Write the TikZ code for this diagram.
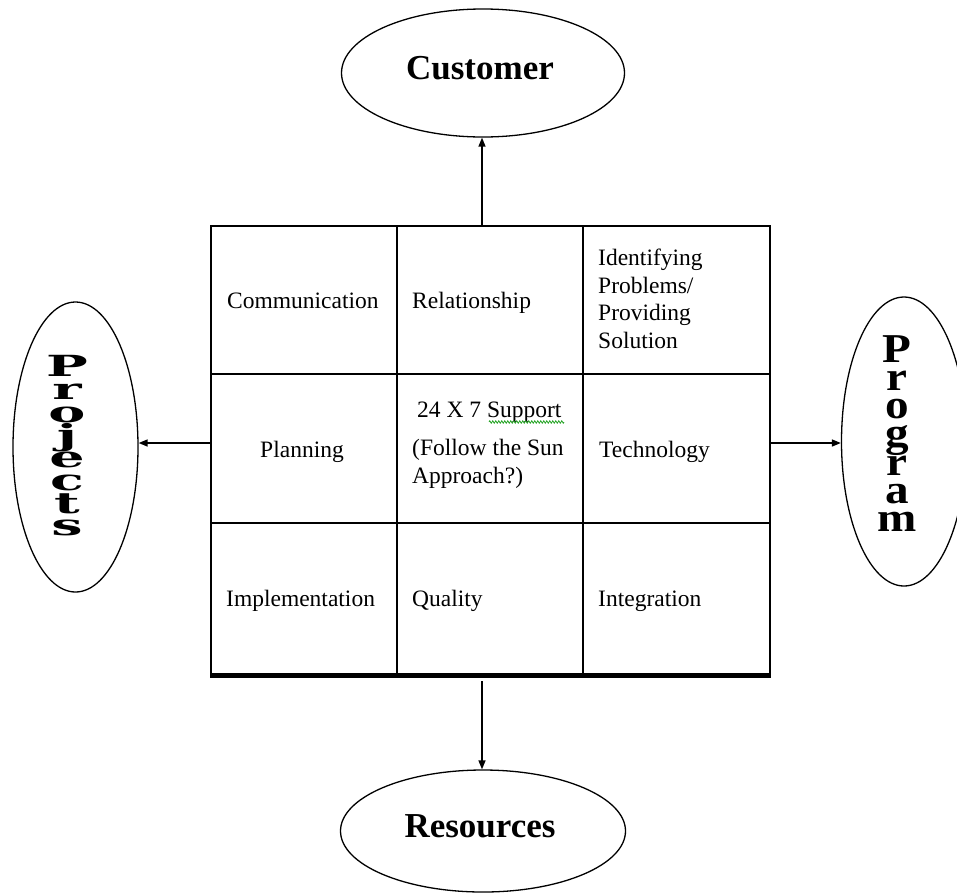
\documentclass[tikz,border=0pt]{standalone}
\usepackage{graphicx}
\usepackage{fontspec}
\setmainfont{Liberation Serif}
\newfontfamily\slabfont{DejaVu Serif}
\usetikzlibrary{shapes.geometric,arrows.meta,decorations.pathmorphing}
\definecolor{spell}{RGB}{40,165,40}
\begin{document}
\begin{tikzpicture}[x=1pt,y=-1pt,
  oval/.style={draw, line width=1.3pt, ellipse, inner sep=0pt},
  gridline/.style={line width=2pt},
  arr/.style={line width=1.5pt, -{Triangle[length=9pt,width=7pt]}},
  cell/.style={inner sep=0pt, font=\fontsize{23.5}{27.5}\selectfont, align=left, anchor=base west},
  title/.style={inner sep=0pt, font=\fontsize{35}{40}\selectfont\bfseries, anchor=base},
  ]
\useasboundingbox (0,0) rectangle (957,892);
% ellipses
\node[oval, minimum width=283pt, minimum height=128pt] (customer) at (483,73) {};
\node[title] (customertext) at (480,79) {Customer};
\node[oval, minimum width=285pt, minimum height=122pt] (resources) at (483,831) {};
\node[title] (resourcestext) at (480,837) {Resources};
\node[oval, minimum width=125pt, minimum height=290pt] (projects) at (75.5,447) {};
\node[inner sep=0pt] (projectstext) at (67,446) {\scalebox{1.85}[0.97]{\parbox{30pt}{\centering\slabfont\bfseries\fontsize{30}{23.4}\selectfont\lineskiplimit=-50pt P\\r\\o\\j\\e\\c\\t\\s}}};
\node[oval, minimum width=125pt, minimum height=289pt] (program) at (904,441.5) {};
\node[inner sep=0pt] (programtext) at (897,433.5) {\scalebox{1.15}[1]{\parbox{50pt}{\centering\bfseries\fontsize{41}{28.2}\selectfont\lineskiplimit=-50pt P\\r\\o\\g\\r\\a\\m}}};
% table
\node[draw, line width=2pt, minimum width=559pt, minimum height=448pt, inner sep=0pt] (table) at (490.5,450) {};
\draw[gridline] (397,226) -- (397,674);
\draw[gridline] (583,226) -- (583,674);
\draw[gridline] (211,374) -- (770,374);
\draw[gridline] (211,523) -- (770,523);
\draw[line width=3.5pt] (210,676) -- (771,676);
% cells
\node[cell] (comm) at (227,308) {Communication};
\node[cell] (rel) at (412,308) {Relationship};
\node[cell] (ident) at (598,348) {Identifying\\Problems/\\Providing\\Solution};
\node[cell, anchor=base] (plan) at (302,457) {Planning};
\node[cell] (support) at (412,483) {\hspace*{5pt}24 X 7 Support\\[10.5pt](Follow the Sun\\Approach?)};
\node[cell] (tech) at (599,457) {Technology};
\node[cell] (impl) at (226,606) {Implementation};
\node[cell] (qual) at (412,606) {Quality};
\node[cell] (integ) at (598,606) {Integration};
\draw[spell, line width=0.8pt, decorate, decoration={zigzag, amplitude=1.2pt, segment length=3pt}] (489,422) -- (564,422);
% connectors
\coordinate (tTop) at (482,226);
\coordinate (tLeft) at (211,443);
\coordinate (tRight) at (770,443);
\coordinate (tBottom) at (482,681);
\draw[arr] (tTop) -- (tTop |- customer.south);
\draw[arr] (tLeft) -- (tLeft -| projects.east);
\draw[arr] (tRight) -- (tRight -| program.west);
\draw[arr] (tBottom) -- (tBottom |- resources.north);
\end{tikzpicture}
\end{document}
